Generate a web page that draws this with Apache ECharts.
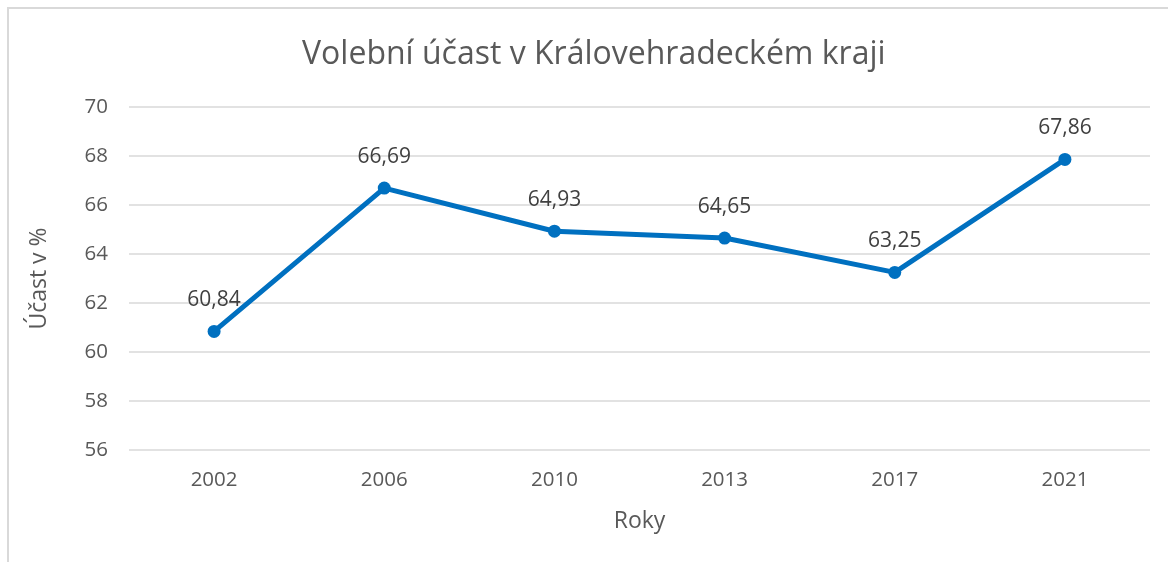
<!DOCTYPE html>
<html>
<head>
<meta charset="utf-8">
<style>
  html, body { margin: 0; padding: 0; background: #fff; }
  #chart { width: 1168px; height: 562px; }
</style>
<script src="https://cdn.jsdelivr.net/npm/echarts@6/dist/echarts.min.js"></script>
</head>
<body>
<div id="chart"></div>
<script>
// data
const years = ['2002', '2006', '2010', '2013', '2017', '2021']
const turnout = [60.84, 66.69, 64.93, 64.65, 63.25, 67.86]

const FONT = '"Open Sans", sans-serif'
const chart = echarts.init(document.getElementById('chart'))

chart.setOption({
  animation: false,
  textStyle: { fontFamily: FONT },
  title: {
    text: 'Volební účast v Královehradeckém kraji',
    left: 302,
    top: 39,
    padding: 0,
    textStyle: { fontFamily: FONT, fontSize: 32, fontWeight: 'normal', color: '#595959' },
  },
  graphic: [{
    type: 'rect',
    shape: { x: 8, y: 8, width: 1300, height: 700 },
    style: { fill: 'none', stroke: '#d9d9d9', lineWidth: 2 },
    silent: true,
  }],
  grid: { left: 129, right: 18, top: 107, bottom: 112 },
  xAxis: {
    type: 'category',
    data: years,
    name: 'Roky',
    nameLocation: 'middle',
    nameGap: 60,
    nameTextStyle: { fontSize: 23, color: '#595959' },
    axisLine: { show: false },
    axisTick: { show: false },
    axisLabel: { fontSize: 20.5, color: '#595959', margin: 20 },
  },
  yAxis: {
    type: 'value',
    min: 56,
    max: 70,
    interval: 2,
    name: 'Účast v %',
    nameLocation: 'middle',
    nameGap: 78,
    nameTextStyle: { fontSize: 23, color: '#595959' },
    axisLine: { show: false },
    axisTick: { show: false },
    axisLabel: { fontSize: 20.5, color: '#595959', margin: 21 },
    splitLine: { lineStyle: { color: '#d9d9d9', width: 1.5 } },
  },
  series: [{
    type: 'line',
    data: turnout,
    symbol: 'circle',
    symbolSize: 13,
    lineStyle: { color: '#0070c0', width: 5 },
    itemStyle: { color: '#0070c0' },
    label: {
      show: true,
      position: 'top',
      distance: 14,
      fontSize: 21,
      color: '#404040',
      formatter: p => p.value.toFixed(2).replace('.', ','),
    },
  }],
})
</script>
</body>
</html>
